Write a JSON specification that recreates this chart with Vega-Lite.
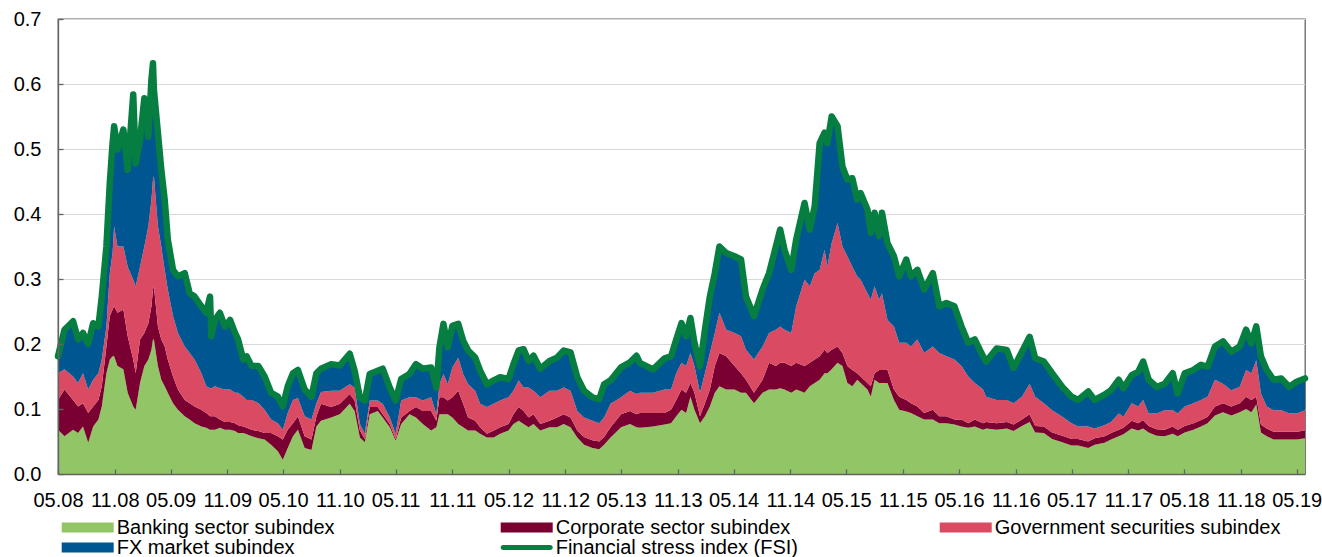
{
"$schema":"https://vega.github.io/schema/vega-lite/v6.json",
"width":1247,"height":455,
"autosize":{"type":"none"},
"padding":{"left":58,"top":19,"right":17,"bottom":83},
"background":"white",
"config":{"font":"Liberation Sans","view":{"stroke":"#636363","strokeWidth":1.3}},
"data":{"values":[
{"d":"2008-05-01","s1":0.068,"s2":0.046,"s3":0.041,"s4":0.026,"fsi":0.181},
{"d":"2008-05-22","s1":0.058,"s2":0.072,"s3":0.031,"s4":0.061,"fsi":0.222},
{"d":"2008-06-19","s1":0.068,"s2":0.046,"s3":0.036,"s4":0.085,"fsi":0.235},
{"d":"2008-07-05","s1":0.063,"s2":0.041,"s3":0.036,"s4":0.067,"fsi":0.207},
{"d":"2008-07-21","s1":0.073,"s2":0.036,"s3":0.046,"s4":0.062,"fsi":0.217},
{"d":"2008-08-07","s1":0.048,"s2":0.046,"s3":0.036,"s4":0.070,"fsi":0.200},
{"d":"2008-08-23","s1":0.073,"s2":0.031,"s3":0.041,"s4":0.087,"fsi":0.232},
{"d":"2008-09-09","s1":0.084,"s2":0.030,"s3":0.041,"s4":0.072,"fsi":0.227},
{"d":"2008-09-20","s1":0.104,"s2":0.031,"s3":0.041,"s4":0.097,"fsi":0.273},
{"d":"2008-10-05","s1":0.155,"s2":0.041,"s3":0.031,"s4":0.123,"fsi":0.350},
{"d":"2008-10-16","s1":0.176,"s2":0.067,"s3":0.066,"s4":0.139,"fsi":0.448},
{"d":"2008-10-25","s1":0.181,"s2":0.072,"s3":0.087,"s4":0.169,"fsi":0.509},
{"d":"2008-10-30","s1":0.181,"s2":0.077,"s3":0.123,"s4":0.154,"fsi":0.535},
{"d":"2008-11-10","s1":0.166,"s2":0.082,"s3":0.102,"s4":0.149,"fsi":0.499},
{"d":"2008-11-29","s1":0.161,"s2":0.092,"s3":0.097,"s4":0.180,"fsi":0.530},
{"d":"2008-12-13","s1":0.125,"s2":0.087,"s3":0.107,"s4":0.149,"fsi":0.468},
{"d":"2008-12-31","s1":0.104,"s2":0.072,"s3":0.123,"s4":0.285,"fsi":0.584},
{"d":"2009-01-08","s1":0.099,"s2":0.056,"s3":0.134,"s4":0.189,"fsi":0.478},
{"d":"2009-01-22","s1":0.140,"s2":0.067,"s3":0.112,"s4":0.195,"fsi":0.514},
{"d":"2009-02-05","s1":0.166,"s2":0.051,"s3":0.133,"s4":0.228,"fsi":0.578},
{"d":"2009-02-18","s1":0.176,"s2":0.056,"s3":0.149,"s4":0.138,"fsi":0.519},
{"d":"2009-02-28","s1":0.191,"s2":0.067,"s3":0.164,"s4":0.185,"fsi":0.607},
{"d":"2009-03-05","s1":0.207,"s2":0.077,"s3":0.169,"s4":0.179,"fsi":0.632},
{"d":"2009-03-08","s1":0.207,"s2":0.082,"s3":0.169,"s4":0.133,"fsi":0.591},
{"d":"2009-03-21","s1":0.166,"s2":0.061,"s3":0.154,"s4":0.144,"fsi":0.525},
{"d":"2009-04-01","s1":0.145,"s2":0.062,"s3":0.143,"s4":0.118,"fsi":0.468},
{"d":"2009-04-12","s1":0.135,"s2":0.061,"s3":0.118,"s4":0.108,"fsi":0.422},
{"d":"2009-04-22","s1":0.125,"s2":0.051,"s3":0.108,"s4":0.077,"fsi":0.361},
{"d":"2009-05-09","s1":0.109,"s2":0.041,"s3":0.093,"s4":0.071,"fsi":0.314},
{"d":"2009-05-25","s1":0.099,"s2":0.031,"s3":0.087,"s4":0.087,"fsi":0.304},
{"d":"2009-06-16","s1":0.089,"s2":0.025,"s3":0.082,"s4":0.113,"fsi":0.309},
{"d":"2009-07-02","s1":0.084,"s2":0.025,"s3":0.077,"s4":0.092,"fsi":0.278},
{"d":"2009-07-18","s1":0.078,"s2":0.026,"s3":0.072,"s4":0.097,"fsi":0.273},
{"d":"2009-08-09","s1":0.073,"s2":0.026,"s3":0.056,"s4":0.103,"fsi":0.258},
{"d":"2009-08-25","s1":0.071,"s2":0.023,"s3":0.041,"s4":0.113,"fsi":0.248},
{"d":"2009-09-06","s1":0.068,"s2":0.021,"s3":0.043,"s4":0.141,"fsi":0.273},
{"d":"2009-09-10","s1":0.068,"s2":0.021,"s3":0.043,"s4":0.080,"fsi":0.212},
{"d":"2009-09-22","s1":0.068,"s2":0.021,"s3":0.046,"s4":0.102,"fsi":0.237},
{"d":"2009-10-08","s1":0.071,"s2":0.013,"s3":0.048,"s4":0.116,"fsi":0.248},
{"d":"2009-10-24","s1":0.068,"s2":0.012,"s3":0.050,"s4":0.097,"fsi":0.227},
{"d":"2009-11-10","s1":0.068,"s2":0.012,"s3":0.050,"s4":0.107,"fsi":0.237},
{"d":"2009-11-26","s1":0.066,"s2":0.012,"s3":0.047,"s4":0.092,"fsi":0.217},
{"d":"2009-12-06","s1":0.063,"s2":0.012,"s3":0.050,"s4":0.082,"fsi":0.207},
{"d":"2009-12-23","s1":0.063,"s2":0.010,"s3":0.046,"s4":0.057,"fsi":0.176},
{"d":"2010-01-03","s1":0.061,"s2":0.010,"s3":0.043,"s4":0.067,"fsi":0.181},
{"d":"2010-01-19","s1":0.058,"s2":0.010,"s3":0.046,"s4":0.052,"fsi":0.166},
{"d":"2010-02-10","s1":0.055,"s2":0.011,"s3":0.043,"s4":0.057,"fsi":0.166},
{"d":"2010-03-02","s1":0.053,"s2":0.010,"s3":0.036,"s4":0.051,"fsi":0.150},
{"d":"2010-03-23","s1":0.045,"s2":0.018,"s3":0.021,"s4":0.041,"fsi":0.125},
{"d":"2010-04-14","s1":0.035,"s2":0.023,"s3":0.020,"s4":0.041,"fsi":0.119},
{"d":"2010-04-30","s1":0.022,"s2":0.031,"s3":0.015,"s4":0.036,"fsi":0.104},
{"d":"2010-05-16","s1":0.040,"s2":0.028,"s3":0.026,"s4":0.041,"fsi":0.135},
{"d":"2010-06-02","s1":0.058,"s2":0.020,"s3":0.036,"s4":0.041,"fsi":0.155},
{"d":"2010-06-18","s1":0.068,"s2":0.021,"s3":0.028,"s4":0.043,"fsi":0.160},
{"d":"2010-07-10","s1":0.040,"s2":0.018,"s3":0.031,"s4":0.041,"fsi":0.130},
{"d":"2010-08-01","s1":0.037,"s2":0.016,"s3":0.031,"s4":0.035,"fsi":0.119},
{"d":"2010-08-17","s1":0.073,"s2":0.016,"s3":0.020,"s4":0.046,"fsi":0.155},
{"d":"2010-09-01","s1":0.082,"s2":0.026,"s3":0.018,"s4":0.036,"fsi":0.162},
{"d":"2010-10-04","s1":0.087,"s2":0.016,"s3":0.025,"s4":0.041,"fsi":0.169},
{"d":"2010-11-01","s1":0.092,"s2":0.016,"s3":0.020,"s4":0.039,"fsi":0.167},
{"d":"2010-12-03","s1":0.108,"s2":0.015,"s3":0.015,"s4":0.047,"fsi":0.185},
{"d":"2010-12-19","s1":0.097,"s2":0.016,"s3":0.020,"s4":0.026,"fsi":0.159},
{"d":"2011-01-05","s1":0.056,"s2":0.011,"s3":0.010,"s4":0.041,"fsi":0.118},
{"d":"2011-01-21","s1":0.049,"s2":0.005,"s3":0.008,"s4":0.051,"fsi":0.113},
{"d":"2011-02-06","s1":0.092,"s2":0.011,"s3":0.010,"s4":0.041,"fsi":0.154},
{"d":"2011-03-04","s1":0.097,"s2":0.006,"s3":0.010,"s4":0.046,"fsi":0.159},
{"d":"2011-03-20","s1":0.087,"s2":0.005,"s3":0.016,"s4":0.054,"fsi":0.162},
{"d":"2011-04-12","s1":0.072,"s2":0.005,"s3":0.010,"s4":0.046,"fsi":0.133},
{"d":"2011-05-01","s1":0.051,"s2":0.003,"s3":0.008,"s4":0.051,"fsi":0.113},
{"d":"2011-05-19","s1":0.077,"s2":0.010,"s3":0.026,"s4":0.033,"fsi":0.146},
{"d":"2011-06-15","s1":0.092,"s2":0.005,"s3":0.021,"s4":0.036,"fsi":0.154},
{"d":"2011-07-06","s1":0.087,"s2":0.016,"s3":0.015,"s4":0.051,"fsi":0.169},
{"d":"2011-07-28","s1":0.077,"s2":0.020,"s3":0.016,"s4":0.049,"fsi":0.162},
{"d":"2011-08-24","s1":0.067,"s2":0.030,"s3":0.021,"s4":0.046,"fsi":0.164},
{"d":"2011-09-10","s1":0.072,"s2":0.010,"s3":0.010,"s4":0.041,"fsi":0.133},
{"d":"2011-09-20","s1":0.092,"s2":0.026,"s3":0.020,"s4":0.057,"fsi":0.195},
{"d":"2011-10-03","s1":0.092,"s2":0.026,"s3":0.036,"s4":0.077,"fsi":0.231},
{"d":"2011-10-17","s1":0.092,"s2":0.021,"s3":0.025,"s4":0.057,"fsi":0.195},
{"d":"2011-11-01","s1":0.087,"s2":0.031,"s3":0.046,"s4":0.064,"fsi":0.228},
{"d":"2011-11-20","s1":0.077,"s2":0.051,"s3":0.051,"s4":0.052,"fsi":0.231},
{"d":"2011-12-06","s1":0.072,"s2":0.036,"s3":0.046,"s4":0.051,"fsi":0.205},
{"d":"2011-12-22","s1":0.067,"s2":0.020,"s3":0.051,"s4":0.052,"fsi":0.190},
{"d":"2012-01-14","s1":0.067,"s2":0.015,"s3":0.046,"s4":0.051,"fsi":0.179},
{"d":"2012-01-30","s1":0.062,"s2":0.010,"s3":0.036,"s4":0.051,"fsi":0.159},
{"d":"2012-02-21","s1":0.056,"s2":0.006,"s3":0.041,"s4":0.035,"fsi":0.138},
{"d":"2012-03-14","s1":0.056,"s2":0.011,"s3":0.041,"s4":0.036,"fsi":0.144},
{"d":"2012-04-04","s1":0.062,"s2":0.010,"s3":0.041,"s4":0.036,"fsi":0.149},
{"d":"2012-05-01","s1":0.067,"s2":0.010,"s3":0.041,"s4":0.028,"fsi":0.146},
{"d":"2012-05-17","s1":0.077,"s2":0.015,"s3":0.036,"s4":0.041,"fsi":0.169},
{"d":"2012-06-03","s1":0.082,"s2":0.021,"s3":0.041,"s4":0.046,"fsi":0.190},
{"d":"2012-06-19","s1":0.077,"s2":0.020,"s3":0.036,"s4":0.059,"fsi":0.192},
{"d":"2012-07-05","s1":0.072,"s2":0.015,"s3":0.046,"s4":0.041,"fsi":0.174},
{"d":"2012-07-21","s1":0.077,"s2":0.015,"s3":0.036,"s4":0.054,"fsi":0.182},
{"d":"2012-08-12","s1":0.067,"s2":0.010,"s3":0.041,"s4":0.044,"fsi":0.162},
{"d":"2012-09-11","s1":0.072,"s2":0.010,"s3":0.046,"s4":0.046,"fsi":0.174},
{"d":"2012-10-05","s1":0.072,"s2":0.015,"s3":0.041,"s4":0.051,"fsi":0.179},
{"d":"2012-10-27","s1":0.077,"s2":0.015,"s3":0.041,"s4":0.057,"fsi":0.190},
{"d":"2012-11-18","s1":0.072,"s2":0.015,"s3":0.041,"s4":0.059,"fsi":0.187},
{"d":"2012-12-10","s1":0.056,"s2":0.011,"s3":0.030,"s4":0.052,"fsi":0.149},
{"d":"2013-01-01","s1":0.045,"s2":0.012,"s3":0.030,"s4":0.041,"fsi":0.128},
{"d":"2013-01-28","s1":0.040,"s2":0.012,"s3":0.030,"s4":0.036,"fsi":0.118},
{"d":"2013-02-19","s1":0.038,"s2":0.012,"s3":0.028,"s4":0.037,"fsi":0.115},
{"d":"2013-03-07","s1":0.045,"s2":0.012,"s3":0.030,"s4":0.051,"fsi":0.138},
{"d":"2013-03-28","s1":0.056,"s2":0.016,"s3":0.036,"s4":0.036,"fsi":0.144},
{"d":"2013-05-01","s1":0.072,"s2":0.020,"s3":0.026,"s4":0.046,"fsi":0.164},
{"d":"2013-05-30","s1":0.077,"s2":0.020,"s3":0.031,"s4":0.044,"fsi":0.172},
{"d":"2013-06-20","s1":0.072,"s2":0.020,"s3":0.031,"s4":0.059,"fsi":0.182},
{"d":"2013-07-01","s1":0.071,"s2":0.023,"s3":0.031,"s4":0.046,"fsi":0.171},
{"d":"2013-08-13","s1":0.073,"s2":0.021,"s3":0.031,"s4":0.036,"fsi":0.161},
{"d":"2013-09-19","s1":0.076,"s2":0.018,"s3":0.036,"s4":0.048,"fsi":0.178},
{"d":"2013-10-10","s1":0.078,"s2":0.021,"s3":0.031,"s4":0.051,"fsi":0.181},
{"d":"2013-10-27","s1":0.089,"s2":0.025,"s3":0.041,"s4":0.052,"fsi":0.207},
{"d":"2013-11-13","s1":0.099,"s2":0.031,"s3":0.041,"s4":0.061,"fsi":0.232},
{"d":"2013-11-28","s1":0.094,"s2":0.031,"s3":0.041,"s4":0.046,"fsi":0.212},
{"d":"2013-12-12","s1":0.119,"s2":0.021,"s3":0.046,"s4":0.054,"fsi":0.240},
{"d":"2013-12-25","s1":0.099,"s2":0.026,"s3":0.041,"s4":0.036,"fsi":0.202},
{"d":"2014-01-12","s1":0.078,"s2":0.011,"s3":0.036,"s4":0.041,"fsi":0.166},
{"d":"2014-01-28","s1":0.089,"s2":0.020,"s3":0.046,"s4":0.067,"fsi":0.222},
{"d":"2014-02-13","s1":0.104,"s2":0.026,"s3":0.056,"s4":0.087,"fsi":0.273},
{"d":"2014-03-01","s1":0.125,"s2":0.041,"s3":0.051,"s4":0.092,"fsi":0.309},
{"d":"2014-03-16","s1":0.135,"s2":0.051,"s3":0.062,"s4":0.102,"fsi":0.350},
{"d":"2014-04-07","s1":0.130,"s2":0.051,"s3":0.041,"s4":0.118,"fsi":0.340},
{"d":"2014-05-04","s1":0.130,"s2":0.036,"s3":0.051,"s4":0.118,"fsi":0.335},
{"d":"2014-05-25","s1":0.125,"s2":0.030,"s3":0.057,"s4":0.118,"fsi":0.330},
{"d":"2014-06-10","s1":0.125,"s2":0.020,"s3":0.046,"s4":0.082,"fsi":0.273},
{"d":"2014-07-06","s1":0.109,"s2":0.016,"s3":0.051,"s4":0.067,"fsi":0.243},
{"d":"2014-08-03","s1":0.125,"s2":0.020,"s3":0.051,"s4":0.088,"fsi":0.284},
{"d":"2014-08-24","s1":0.130,"s2":0.041,"s3":0.046,"s4":0.092,"fsi":0.309},
{"d":"2014-09-15","s1":0.130,"s2":0.036,"s3":0.056,"s4":0.128,"fsi":0.350},
{"d":"2014-09-29","s1":0.132,"s2":0.039,"s3":0.056,"s4":0.149,"fsi":0.376},
{"d":"2014-10-13","s1":0.130,"s2":0.041,"s3":0.051,"s4":0.123,"fsi":0.345},
{"d":"2014-11-04","s1":0.125,"s2":0.041,"s3":0.051,"s4":0.097,"fsi":0.314},
{"d":"2014-11-20","s1":0.130,"s2":0.041,"s3":0.087,"s4":0.103,"fsi":0.361},
{"d":"2014-12-17","s1":0.125,"s2":0.041,"s3":0.133,"s4":0.118,"fsi":0.417},
{"d":"2015-01-03","s1":0.135,"s2":0.036,"s3":0.118,"s4":0.087,"fsi":0.376},
{"d":"2015-01-19","s1":0.140,"s2":0.036,"s3":0.133,"s4":0.103,"fsi":0.412},
{"d":"2015-02-04","s1":0.145,"s2":0.036,"s3":0.133,"s4":0.195,"fsi":0.509},
{"d":"2015-02-20","s1":0.155,"s2":0.036,"s3":0.154,"s4":0.180,"fsi":0.525},
{"d":"2015-03-01","s1":0.155,"s2":0.031,"s3":0.133,"s4":0.190,"fsi":0.509},
{"d":"2015-03-15","s1":0.161,"s2":0.030,"s3":0.164,"s4":0.195,"fsi":0.550},
{"d":"2015-04-03","s1":0.171,"s2":0.025,"s3":0.190,"s4":0.149,"fsi":0.535},
{"d":"2015-04-19","s1":0.166,"s2":0.020,"s3":0.164,"s4":0.123,"fsi":0.473},
{"d":"2015-05-05","s1":0.140,"s2":0.026,"s3":0.169,"s4":0.118,"fsi":0.453},
{"d":"2015-05-21","s1":0.135,"s2":0.025,"s3":0.159,"s4":0.136,"fsi":0.455},
{"d":"2015-06-06","s1":0.145,"s2":0.010,"s3":0.149,"s4":0.118,"fsi":0.422},
{"d":"2015-06-17","s1":0.140,"s2":0.010,"s3":0.149,"s4":0.133,"fsi":0.432},
{"d":"2015-07-09","s1":0.130,"s2":0.010,"s3":0.138,"s4":0.129,"fsi":0.407},
{"d":"2015-07-20","s1":0.119,"s2":0.016,"s3":0.133,"s4":0.103,"fsi":0.371},
{"d":"2015-08-01","s1":0.145,"s2":0.010,"s3":0.134,"s4":0.113,"fsi":0.402},
{"d":"2015-08-16","s1":0.140,"s2":0.020,"s3":0.108,"s4":0.098,"fsi":0.366},
{"d":"2015-08-25","s1":0.140,"s2":0.020,"s3":0.118,"s4":0.124,"fsi":0.402},
{"d":"2015-09-12","s1":0.140,"s2":0.020,"s3":0.077,"s4":0.118,"fsi":0.355},
{"d":"2015-10-03","s1":0.114,"s2":0.016,"s3":0.097,"s4":0.108,"fsi":0.335},
{"d":"2015-10-20","s1":0.099,"s2":0.020,"s3":0.083,"s4":0.102,"fsi":0.304},
{"d":"2015-11-12","s1":0.096,"s2":0.018,"s3":0.088,"s4":0.128,"fsi":0.330},
{"d":"2015-11-27","s1":0.094,"s2":0.015,"s3":0.087,"s4":0.108,"fsi":0.304},
{"d":"2015-12-18","s1":0.089,"s2":0.015,"s3":0.103,"s4":0.107,"fsi":0.314},
{"d":"2016-01-09","s1":0.084,"s2":0.010,"s3":0.092,"s4":0.098,"fsi":0.284},
{"d":"2016-02-06","s1":0.084,"s2":0.015,"s3":0.097,"s4":0.113,"fsi":0.309},
{"d":"2016-02-27","s1":0.078,"s2":0.011,"s3":0.097,"s4":0.072,"fsi":0.258},
{"d":"2016-03-21","s1":0.078,"s2":0.011,"s3":0.092,"s4":0.082,"fsi":0.263},
{"d":"2016-04-16","s1":0.076,"s2":0.008,"s3":0.092,"s4":0.082,"fsi":0.258},
{"d":"2016-05-09","s1":0.073,"s2":0.011,"s3":0.082,"s4":0.061,"fsi":0.227},
{"d":"2016-05-31","s1":0.071,"s2":0.007,"s3":0.072,"s4":0.052,"fsi":0.202},
{"d":"2016-06-21","s1":0.073,"s2":0.011,"s3":0.056,"s4":0.067,"fsi":0.207},
{"d":"2016-07-18","s1":0.068,"s2":0.010,"s3":0.052,"s4":0.051,"fsi":0.181},
{"d":"2016-07-28","s1":0.070,"s2":0.010,"s3":0.039,"s4":0.054,"fsi":0.173},
{"d":"2016-08-31","s1":0.068,"s2":0.010,"s3":0.036,"s4":0.079,"fsi":0.193},
{"d":"2016-10-03","s1":0.070,"s2":0.010,"s3":0.034,"s4":0.077,"fsi":0.191},
{"d":"2016-10-25","s1":0.066,"s2":0.010,"s3":0.033,"s4":0.054,"fsi":0.163},
{"d":"2016-11-21","s1":0.074,"s2":0.010,"s3":0.035,"s4":0.069,"fsi":0.188},
{"d":"2016-12-16","s1":0.080,"s2":0.012,"s3":0.047,"s4":0.072,"fsi":0.211},
{"d":"2017-01-03","s1":0.064,"s2":0.010,"s3":0.045,"s4":0.059,"fsi":0.178},
{"d":"2017-01-31","s1":0.063,"s2":0.010,"s3":0.036,"s4":0.064,"fsi":0.173},
{"d":"2017-02-27","s1":0.054,"s2":0.010,"s3":0.034,"s4":0.057,"fsi":0.155},
{"d":"2017-04-01","s1":0.049,"s2":0.010,"s3":0.029,"s4":0.046,"fsi":0.134},
{"d":"2017-05-01","s1":0.044,"s2":0.010,"s3":0.024,"s4":0.041,"fsi":0.119},
{"d":"2017-05-22","s1":0.044,"s2":0.010,"s3":0.019,"s4":0.041,"fsi":0.114},
{"d":"2017-06-24","s1":0.040,"s2":0.010,"s3":0.023,"s4":0.054,"fsi":0.127},
{"d":"2017-07-15","s1":0.045,"s2":0.010,"s3":0.015,"s4":0.044,"fsi":0.114},
{"d":"2017-08-16","s1":0.048,"s2":0.010,"s3":0.017,"s4":0.047,"fsi":0.122},
{"d":"2017-09-06","s1":0.053,"s2":0.010,"s3":0.017,"s4":0.049,"fsi":0.129},
{"d":"2017-10-01","s1":0.058,"s2":0.010,"s3":0.025,"s4":0.052,"fsi":0.145},
{"d":"2017-10-16","s1":0.061,"s2":0.010,"s3":0.017,"s4":0.044,"fsi":0.132},
{"d":"2017-11-12","s1":0.070,"s2":0.012,"s3":0.027,"s4":0.043,"fsi":0.152},
{"d":"2017-12-03","s1":0.067,"s2":0.011,"s3":0.026,"s4":0.053,"fsi":0.157},
{"d":"2017-12-19","s1":0.070,"s2":0.013,"s3":0.031,"s4":0.059,"fsi":0.173},
{"d":"2018-01-06","s1":0.064,"s2":0.010,"s3":0.019,"s4":0.052,"fsi":0.145},
{"d":"2018-02-01","s1":0.059,"s2":0.010,"s3":0.024,"s4":0.041,"fsi":0.134},
{"d":"2018-02-27","s1":0.058,"s2":0.010,"s3":0.030,"s4":0.041,"fsi":0.139},
{"d":"2018-03-25","s1":0.062,"s2":0.011,"s3":0.025,"s4":0.057,"fsi":0.155},
{"d":"2018-04-10","s1":0.058,"s2":0.010,"s3":0.025,"s4":0.031,"fsi":0.124},
{"d":"2018-05-03","s1":0.064,"s2":0.010,"s3":0.030,"s4":0.051,"fsi":0.155},
{"d":"2018-05-31","s1":0.068,"s2":0.010,"s3":0.031,"s4":0.051,"fsi":0.160},
{"d":"2018-06-25","s1":0.073,"s2":0.010,"s3":0.031,"s4":0.054,"fsi":0.168},
{"d":"2018-07-16","s1":0.078,"s2":0.010,"s3":0.031,"s4":0.046,"fsi":0.165},
{"d":"2018-08-09","s1":0.090,"s2":0.014,"s3":0.041,"s4":0.051,"fsi":0.196},
{"d":"2018-09-04","s1":0.095,"s2":0.014,"s3":0.030,"s4":0.065,"fsi":0.204},
{"d":"2018-10-01","s1":0.090,"s2":0.014,"s3":0.025,"s4":0.059,"fsi":0.188},
{"d":"2018-10-28","s1":0.095,"s2":0.014,"s3":0.025,"s4":0.062,"fsi":0.196},
{"d":"2018-11-18","s1":0.100,"s2":0.019,"s3":0.041,"s4":0.062,"fsi":0.222},
{"d":"2018-12-05","s1":0.095,"s2":0.019,"s3":0.041,"s4":0.046,"fsi":0.201},
{"d":"2018-12-21","s1":0.107,"s2":0.012,"s3":0.056,"s4":0.052,"fsi":0.227},
{"d":"2019-01-05","s1":0.064,"s2":0.012,"s3":0.048,"s4":0.057,"fsi":0.181},
{"d":"2019-01-24","s1":0.058,"s2":0.012,"s3":0.034,"s4":0.056,"fsi":0.160},
{"d":"2019-02-15","s1":0.053,"s2":0.012,"s3":0.033,"s4":0.047,"fsi":0.145},
{"d":"2019-03-12","s1":0.053,"s2":0.012,"s3":0.033,"s4":0.049,"fsi":0.147},
{"d":"2019-04-07","s1":0.053,"s2":0.012,"s3":0.028,"s4":0.041,"fsi":0.134},
{"d":"2019-05-01","s1":0.053,"s2":0.012,"s3":0.028,"s4":0.049,"fsi":0.142},
{"d":"2019-05-28","s1":0.055,"s2":0.012,"s3":0.031,"s4":0.049,"fsi":0.147}
]},
"resolve":{"axis":{"y":"independent"}},
"layer":[
{"transform":[{"fold":["s1","s2","s3","s4"],"as":["k","v"]}],
 "mark":{"type":"area","interpolate":"linear"},
 "encoding":{
  "x":{"field":"d","type":"temporal",
   "scale":{"type":"utc","domain":[{"year":2008,"month":5,"date":1,"utc":true},{"year":2019,"month":5,"date":28,"utc":true}]},
   "axis":{"title":null,"format":"%m.%y","labelFlush":false,"labelOverlap":false,
    "values":[{"year":2008,"month":5,"date":1,"utc":true},{"year":2008,"month":11,"date":1,"utc":true},{"year":2009,"month":5,"date":1,"utc":true},{"year":2009,"month":11,"date":1,"utc":true},{"year":2010,"month":5,"date":1,"utc":true},{"year":2010,"month":11,"date":1,"utc":true},{"year":2011,"month":5,"date":1,"utc":true},{"year":2011,"month":11,"date":1,"utc":true},{"year":2012,"month":5,"date":1,"utc":true},{"year":2012,"month":11,"date":1,"utc":true},{"year":2013,"month":5,"date":1,"utc":true},{"year":2013,"month":11,"date":1,"utc":true},{"year":2014,"month":5,"date":1,"utc":true},{"year":2014,"month":11,"date":1,"utc":true},{"year":2015,"month":5,"date":1,"utc":true},{"year":2015,"month":11,"date":1,"utc":true},{"year":2016,"month":5,"date":1,"utc":true},{"year":2016,"month":11,"date":1,"utc":true},{"year":2017,"month":5,"date":1,"utc":true},{"year":2017,"month":11,"date":1,"utc":true},{"year":2018,"month":5,"date":1,"utc":true},{"year":2018,"month":11,"date":1,"utc":true},{"year":2019,"month":5,"date":1,"utc":true}],
    "tickSize":-5,"tickColor":"#636363","tickWidth":1.3,"domainColor":"#636363","domainWidth":1.3,
    "labelPadding":21,"labelFontSize":20,"labelColor":"#000000","labelFont":"Liberation Sans","grid":false,"zindex":1}},
  "y":{"field":"v","type":"quantitative","stack":"zero",
   "scale":{"domain":[0,0.7],"nice":false,"zero":true},
   "axis":{"title":null,"orient":"left","values":[0,0.1,0.2,0.3,0.4,0.5,0.6,0.7],
    "grid":true,"gridColor":"#d9d9d9","gridWidth":1.2,"domain":false,"ticks":false,"labels":false,
    "minExtent":0,"maxExtent":0,"offset":0,"zindex":0}},
  "color":{"field":"k","type":"nominal",
   "scale":{"domain":["s1","s2","s3","s4","fsi"],"range":["#92c566","#7b0032","#da4a63","#005690","#067e41"]},
   "legend":{"title":null,"orient":"none","legendX":19.7,"legendY":498.5,"columns":3,"direction":"horizontal","gridAlign":"all",
    "columnPadding":98,"rowPadding":0,"labelFontSize":20,"labelColor":"#000000","labelFont":"Liberation Sans","labelLimit":400,
    "symbolSize":100,"symbolType":"M-5.2,-1H5.2V1H-5.2Z","symbolOffset":0,"labelOffset":19,"symbolStrokeWidth":0,"symbolOpacity":1,
    "labelExpr":"datum.label == 's1' ? 'Banking sector subindex' : datum.label == 's2' ? 'Corporate sector subindex' : datum.label == 's3' ? 'Government securities subindex' : datum.label == 's4' ? 'FX market subindex' : 'Financial stress index (FSI)'",
    "encode":{"symbols":{"update":{
      "shape":{"signal":"datum.value === 'fsi' ? 'M-4.7,-0.5H4.7A0.5,0.5 0 0 1 4.7,0.5H-4.7A0.5,0.5 0 0 1 -4.7,-0.5Z' : 'M-5.2,-1H5.2V1H-5.2Z'"},
      "fill":{"scale":"color","field":"value"},"stroke":{"value":"transparent"},"opacity":{"value":1}}}}}},
  "order":{"field":"k","sort":"ascending"}
 }},
{"mark":{"type":"line","strokeWidth":6.5,"strokeCap":"round","strokeJoin":"round","interpolate":"linear"},
 "encoding":{
  "x":{"field":"d","type":"temporal"},
  "y":{"field":"fsi","type":"quantitative",
   "axis":{"title":null,"orient":"left","values":[0,0.1,0.2,0.3,0.4,0.5,0.6,0.7],"format":".1f","grid":false,
    "tickSize":-5,"tickColor":"#636363","tickWidth":1.3,"domainColor":"#636363","domainWidth":1.3,
    "labelPadding":22,"labelFontSize":20,"labelColor":"#000000","labelFont":"Liberation Sans","offset":0,"zindex":1}},
  "color":{"datum":"fsi"}
 }}
]
}
